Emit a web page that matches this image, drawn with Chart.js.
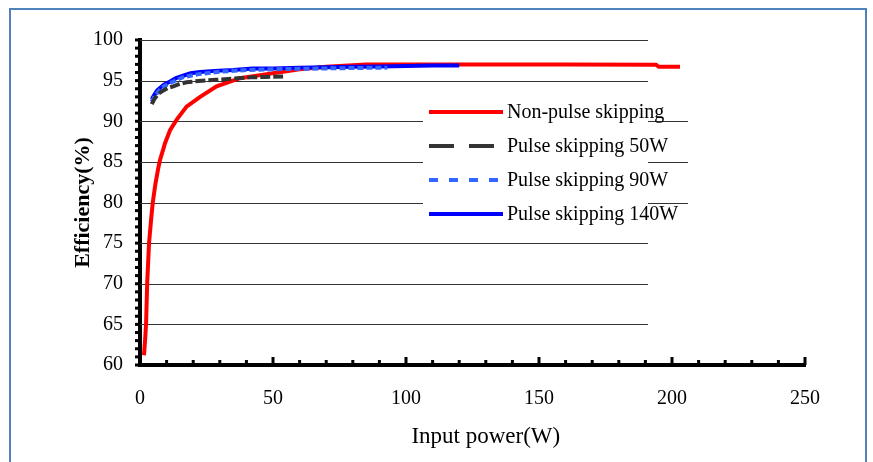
<!DOCTYPE html>
<html>
<head>
<meta charset="utf-8">
<script src="https://cdn.jsdelivr.net/npm/chart.js@4.4.1/dist/chart.umd.min.js"></script>
<style>
    html, body { margin: 0; padding: 0; background: #fff; }
    #wrap { width: 873px; height: 462px; }
</style>
</head>
<body>
<div id="wrap"><canvas id="effChart" width="873" height="462"></canvas></div>
<script>
// Non-pulse skipping
const redX = [1.5, 2.0, 2.3, 2.7, 3.4, 4.2, 4.8, 5.8, 6.8, 7.5, 8.7, 9.4, 11.3, 13.8, 17.5, 22.6, 28.8, 37.6, 47.6, 53.8, 60, 70, 85, 120, 160, 194, 195, 203];
const redY = [61.2, 63.5, 65.2, 70.1, 75, 78, 80, 82.3, 84.1, 85.2, 86.5, 87.3, 88.9, 90.2, 91.8, 93, 94.3, 95.3, 95.8, 96.1, 96.4, 96.7, 97.0, 97.0, 97.0, 96.95, 96.7, 96.7];
// Pulse skipping 50W
const p50X = [4.4, 5.5, 7, 8.8, 10.5, 12.5, 15, 17.5, 22, 28.8, 35, 41.4, 47, 53.8];
const p50Y = [92.1, 92.8, 93.4, 93.8, 94.1, 94.3, 94.6, 94.8, 94.95, 95.1, 95.25, 95.4, 95.45, 95.5];
// Pulse skipping 90W
const p90X = [4.4, 5.5, 7.5, 9, 11.3, 16, 22, 30, 40, 50, 60, 70, 80, 93];
const p90Y = [92.4, 93.1, 93.9, 94.3, 94.7, 95.4, 95.8, 96.1, 96.3, 96.4, 96.45, 96.5, 96.55, 96.6];
// Pulse skipping 140W
const p140X = [4.4, 5.5, 6.5, 7.5, 9, 11.3, 13.5, 16.2, 19, 22.6, 28, 35, 42.5, 50, 60, 70, 80, 90, 100, 110, 120];
const p140Y = [92.7, 93.3, 93.8, 94.1, 94.5, 94.9, 95.3, 95.6, 95.9, 96.05, 96.2, 96.3, 96.5, 96.5, 96.6, 96.65, 96.7, 96.75, 96.8, 96.85, 96.85];

const seriesNames = ['Non-pulse skipping', 'Pulse skipping 50W', 'Pulse skipping 90W', 'Pulse skipping 140W'];
const yGridValues = [65, 70, 75, 80, 85, 90, 95, 100];
const xTitle = 'Input power(W)';

const serif = "'Liberation Serif', 'Times New Roman', serif";

function pts(xs, ys) {
    return xs.map(function(x, i) { return { x: x, y: ys[i] }; });
}

// white page + blue frame
const framePlugin = {
    id: 'frame',
    beforeDraw: function(chart) {
        const ctx = chart.ctx;
        ctx.save();
        ctx.fillStyle = '#fff';
        ctx.fillRect(0, 0, chart.width, chart.height);
        ctx.strokeStyle = '#4f81bd';
        ctx.lineWidth = 2;
        ctx.strokeRect(10, 9, 856, 480);
        ctx.restore();
    }
};

// horizontal grid lines, they stop short of the right end of the axis
const gridPlugin = {
    id: 'shortGrid',
    beforeDatasetsDraw: function(chart) {
        const ctx = chart.ctx;
        const xs = chart.scales.x, ys = chart.scales.y;
        ctx.save();
        ctx.strokeStyle = '#333';
        ctx.lineWidth = 1;
        yGridValues.forEach(function(v) {
            const end = (v >= 80 && v <= 90) ? 206 : 191;
            const py = Math.round(ys.getPixelForValue(v)) + 0.5;
            ctx.beginPath();
            ctx.moveTo(xs.getPixelForValue(0), py);
            ctx.lineTo(xs.getPixelForValue(end), py);
            ctx.stroke();
        });
        ctx.restore();
    }
};

// tick marks: y every 1%, x every 10W pointing up; x title centred like the original
const tickPlugin = {
    id: 'tickMarks',
    afterDraw: function(chart) {
        const ctx = chart.ctx;
        const xs = chart.scales.x, ys = chart.scales.y;
        const ax = xs.getPixelForValue(0);
        const ay = ys.getPixelForValue(60);
        ctx.save();
        ctx.strokeStyle = '#000';
        ctx.lineWidth = 3;
        for (let v = 60; v <= 100; v++) {
            const py = ys.getPixelForValue(v);
            ctx.beginPath();
            ctx.moveTo(ax - 5, py);
            ctx.lineTo(ax, py);
            ctx.stroke();
        }
        for (let v = 0; v <= 250; v += 10) {
            const px = xs.getPixelForValue(v);
            const len = v % 50 === 0 ? 8 : 5;
            ctx.beginPath();
            ctx.moveTo(px, ay);
            ctx.lineTo(px, ay - len);
            ctx.stroke();
        }
        ctx.fillStyle = '#000';
        ctx.font = '23px ' + serif;
        ctx.textAlign = 'center';
        ctx.textBaseline = 'middle';
        ctx.fillText(xTitle, xs.getPixelForValue(130), 437);
        ctx.restore();
    }
};

// legend box sitting inside the plot
const legendPlugin = {
    id: 'boxLegend',
    afterDraw: function(chart) {
        const ctx = chart.ctx;
        const left = 423, top = 96;
        const rowH = 34;
        const legendDash = [[], [25, 15], [9, 11], []];
        ctx.save();
        ctx.fillStyle = '#fff';
        ctx.fillRect(left, top, 225, 132);
        chart.data.datasets.forEach(function(ds, i) {
            const cy = top + 16 + i * rowH;
            ctx.strokeStyle = ds.borderColor;
            ctx.lineWidth = 4;
            ctx.setLineDash(legendDash[i]);
            ctx.beginPath();
            ctx.moveTo(left + 6, cy);
            ctx.lineTo(left + 80, cy);
            ctx.stroke();
            ctx.setLineDash([]);
            ctx.fillStyle = '#000';
            ctx.font = '20px ' + serif;
            ctx.textBaseline = 'middle';
            ctx.fillText(ds.label, left + 84, cy + 1);
        });
        ctx.restore();
    }
};

const ctx = document.getElementById('effChart').getContext('2d');
new Chart(ctx, {
    type: 'scatter',
    data: {
        datasets: [{
            label: seriesNames[0],
            data: pts(redX, redY),
            borderColor: '#ff0000',
            borderWidth: 4,
            order: 1
        }, {
            label: seriesNames[1],
            data: pts(p50X, p50Y),
            borderColor: '#333333',
            borderWidth: 4,
            borderDash: [10, 3],
            order: 0
        }, {
            label: seriesNames[2],
            data: pts(p90X, p90Y),
            borderColor: '#3366ff',
            borderWidth: 4,
            borderDash: [6, 3],
            order: 0
        }, {
            label: seriesNames[3],
            data: pts(p140X, p140Y),
            borderColor: '#0000ff',
            borderWidth: 4,
            order: 0
        }]
    },
    options: {
        responsive: false,
        animation: false,
        showLine: true,
        elements: {
            point: { radius: 0, hoverRadius: 0 },
            line: { tension: 0 }
        },
        layout: {
            padding: { left: 70, right: 68, top: 40, bottom: 0 }
        },
        plugins: {
            legend: { display: false },
            tooltip: { enabled: false }
        },
        scales: {
            x: {
                type: 'linear',
                min: 0,
                max: 250,
                afterFit: function(scale) { scale.height = 97; },
                grid: { display: false },
                border: { display: true, color: '#000', width: 4 },
                ticks: {
                    stepSize: 10,
                    autoSkip: false,
                    maxRotation: 0,
                    padding: 14,
                    color: '#000',
                    font: { family: serif, size: 20 },
                    callback: function(v) { return v % 50 === 0 ? v : ''; }
                }
            },
            y: {
                type: 'linear',
                min: 60,
                max: 100,
                afterFit: function(scale) { scale.width = 70; },
                grid: { display: false },
                border: { display: true, color: '#000', width: 4 },
                ticks: {
                    stepSize: 1,
                    autoSkip: false,
                    padding: 9,
                    color: '#000',
                    font: { family: serif, size: 20 },
                    callback: function(v) { return v % 5 === 0 ? v : ''; }
                },
                title: {
                    display: true,
                    text: 'Efficiency(%)',
                    color: '#000',
                    font: { family: serif, size: 22, weight: 'bold' },
                    padding: 0
                }
            }
        }
    },
    plugins: [framePlugin, gridPlugin, tickPlugin, legendPlugin]
});
</script>
</body>
</html>
